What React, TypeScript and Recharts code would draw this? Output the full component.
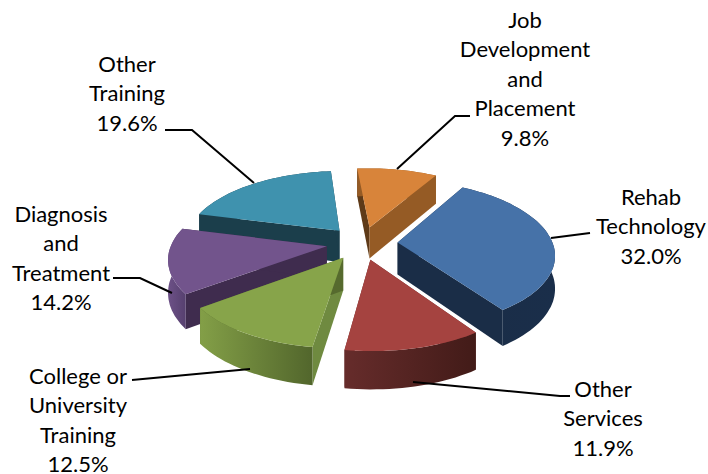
import { PieChart, Pie } from "recharts";

const categories = [
  "Job Development and Placement",
  "Rehab Technology",
  "Other Services",
  "College or University Training",
  "Diagnosis and Treatment",
  "Other Training",
];
const shares = [9.8, 32.0, 11.9, 12.5, 14.2, 19.6];

// wrapped label text, one array per category
const labelLines = [
  ["Job", "Development", "and", "Placement"],
  ["Rehab", "Technology"],
  ["Other", "Services"],
  ["College or", "University", "Training"],
  ["Diagnosis", "and", "Treatment"],
  ["Other", "Training"],
];

// back to front, so nearer slices paint over farther ones
const drawOrder = [5, 0, 4, 1, 3, 2];

const topColors = ["#D8843A", "#4672A8", "#A54340", "#87A44A", "#72548C", "#3F92AE"];
const edgeStart = ["#5E3A18", "#1A2D47", "#6A2E2D", "#6F8A40", "#3F2C4E", "#1B3E4B"];
const edgeEnd = ["#955B25", "#1A2D47", "#6A2E2D", "#566A2E", "#3F2C4E", "#1B3E4B"];
const wallLeft = ["#955B25", "#1A2D47", "#662C2B", "#839F47", "#6D5187", "#1B3E4B"];
const wallRight = ["#955B25", "#1A2E4A", "#421B18", "#52662C", "#56406F", "#1B3E4B"];

const labelLayout = [
  { x: 525, y: 19, anchor: "middle" },
  { x: 651, y: 196, anchor: "middle" },
  { x: 603, y: 388, anchor: "middle" },
  { x: 78, y: 375, anchor: "middle" },
  { x: 61, y: 213, anchor: "middle" },
  { x: 127, y: 63, anchor: "middle" },
];
const leaders = [
  "397,169 455,116 470,116",
  "551,238 590,233",
  "413,382 560,396 570,396",
  "250,369 132,380",
  "172,293 140,278 113,278",
  "254,183 192,130 165,130",
];

const W = 708;
const H = 474;
const CX = 362;
const CY = 243;
const R = 155;
const SQUASH = 0.465; // vertical foreshortening of the tilted disc
const PERSP = 0.15;
const EXPLODE = 0.23;
const DEPTH = 28;
const LINE = 29.6;

const rad = (d: number) => (d * Math.PI) / 180;

// u to the right, v towards the back of the disc, both in radius units
function project(cx: number, cy: number, r: number, u: number, v: number, down = 0) {
  const s = 1 / (1 + PERSP * v);
  return {
    x: cx + r * u * s,
    y: cy - r * SQUASH * v * s + down * (s * DEPTH + 4),
  };
}

const path = (pts: { x: number; y: number }[]) =>
  "M" + pts.map((p) => `${p.x.toFixed(1)},${p.y.toFixed(1)}`).join("L") + "Z";

function Slice3D(props: any, only: number) {
  const { cx, cy, outerRadius, startAngle, endAngle, midAngle } = props;
  const idx = props.index ?? props.payload?.idx;
  if (idx !== only) return <g />;
  const um = Math.cos(rad(midAngle)) * EXPLODE;
  const vm = Math.sin(rad(midAngle)) * EXPLODE;
  const pt = (deg: number | null, down: number) => {
    if (deg === null) return project(cx, cy, outerRadius, um, vm, down);
    return project(cx, cy, outerRadius, um + Math.cos(rad(deg)), vm + Math.sin(rad(deg)), down);
  };
  const n = Math.ceil(Math.abs(startAngle - endAngle) / 2);
  const steps = Array.from({ length: n + 1 }, (_, i) => startAngle + ((endAngle - startAngle) * i) / n);
  const topArc = steps.map((a) => pt(a, 0));
  const lowArc = steps.map((a) => pt(a, 1));
  return (
    <g>
      <defs>
        <linearGradient id={`wall-${idx}`} x1="0" y1="0" x2="1" y2="0">
          <stop offset="0%" stopColor={wallLeft[idx]} />
          <stop offset="100%" stopColor={wallRight[idx]} />
        </linearGradient>
      </defs>
      <path d={path([pt(null, 0), pt(startAngle, 0), pt(startAngle, 1), pt(null, 1)])} fill={edgeStart[idx]} />
      <path d={path([pt(null, 0), pt(endAngle, 0), pt(endAngle, 1), pt(null, 1)])} fill={edgeEnd[idx]} />
      <path d={path([...topArc, ...lowArc.slice().reverse()])} fill={`url(#wall-${idx})`} />
      <path d={path([pt(null, 0), ...topArc])} fill={topColors[idx]} />
    </g>
  );
}

function SliceLabel(props: any) {
  const i = props.index;
  const at = labelLayout[i];
  const lines = [...labelLines[i], `${shares[i].toFixed(1)}%`];
  return (
    <g>
      <polyline points={leaders[i]} fill="none" stroke="#000" strokeWidth={2} />
      {lines.map((t, k) => (
        <text
          key={k}
          x={at.x}
          y={at.y + k * LINE}
          textAnchor={at.anchor as any}
          dominantBaseline="central"
          fontFamily="Lato, Carlito, sans-serif"
          fontSize={22}
          fill="#000"
        >
          {t}
        </text>
      ))}
    </g>
  );
}

const data = categories.map((name, idx) => ({ name, value: shares[idx], idx }));

export default function App() {
  return (
    <div style={{ position: "fixed", left: 0, top: 0, width: W, height: H, background: "#fff" }}>
      <PieChart width={W} height={H} margin={{ top: 0, right: 0, bottom: 0, left: 0 }}>
        {drawOrder.map((only, k) => (
          <Pie
            key={only}
            data={data}
            dataKey="value"
            nameKey="name"
            cx={CX}
            cy={CY}
            outerRadius={R}
            startAngle={95}
            endAngle={-265}
            stroke="none"
            isAnimationActive={false}
            shape={(p: any) => Slice3D(p, only)}
            label={k === drawOrder.length - 1 ? SliceLabel : false}
            labelLine={false}
          />
        ))}
      </PieChart>
    </div>
  );
}
